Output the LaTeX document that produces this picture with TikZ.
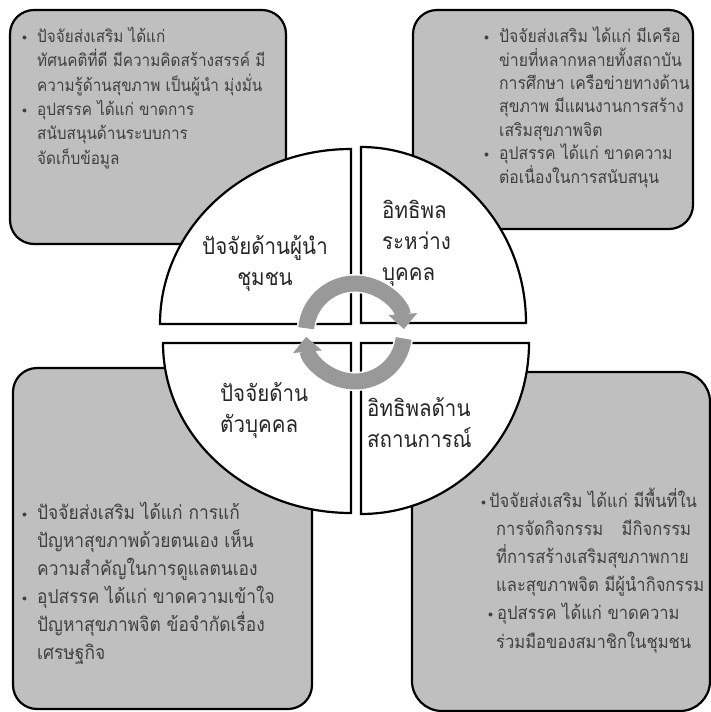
\documentclass[tikz,border=0pt]{standalone}
\usepackage{fontspec}
\newfontfamily\thaifont[Script=Thai,FakeStretch=0.9]{Loma}
\usetikzlibrary{arrows.meta}
\definecolor{boxgray}{HTML}{BFBFBF}
\definecolor{textgray}{HTML}{404040}
\definecolor{arrowgray}{HTML}{999999}
\newcommand{\dotmark}{\raisebox{2pt}{\fontsize{10}{10}\selectfont$\bullet$}}
\newcommand{\bul}{\makebox[15pt][l]{\dotmark}}
\newcommand{\ind}{\hspace*{15pt}}

\begin{document}
\begin{tikzpicture}
	[x=1pt,y=-1pt,
	 factorbox/.style={draw=black,line width=2.2pt,fill=boxgray,rounded corners=24pt},
	 quadrant/.style={draw=black,line width=2.2pt,fill=white},
	 boxtext/.style={anchor=base west,align=left,inner sep=0pt,text=textgray},
	 quadlabel/.style={anchor=base west,align=left,inner sep=0pt,text=black!85,
		font=\thaifont\fontsize{22.8}{31}\selectfont},
	 cyclearrow/.style={line width=16pt,arrowgray,-{Triangle[width=28pt,length=15pt]}},
	 cyclearrowbg/.style={line width=19pt,white,-{Triangle[width=32pt,length=17pt]}}]
	\useasboundingbox (0,0) rectangle (711,712);

	% outer boxes
	\draw[factorbox] (10,10) rectangle (286,244);
	\draw[factorbox] (413,10) rectangle (693,229);
	\draw[factorbox] (13,368) rectangle (312,709);
	\draw[factorbox,rounded corners=30pt] (412,372) rectangle (710,711);

	% texts in the boxes (anchored at the base of the last line)
	\node[boxtext,font=\thaifont\fontsize{17}{24.3}\selectfont] (leadtext) at (22,164)
		{\bul ปัจจัยส่งเสริม ได้แก่\\
		 \ind ทัศนคติที่ดี มีความคิดสร้างสรรค์ มี\\
		 \ind ความรู้ด้านสุขภาพ เป็นผู้นำ มุ่งมั่น\\
		 \bul อุปสรรค ได้แก่ ขาดการ\\
		 \ind สนับสนุนด้านระบบการ\\
		 \ind จัดเก็บข้อมูล};
	\node[boxtext,font=\thaifont\fontsize{17.5}{23.4}\selectfont] (socialtext) at (484,183)
		{\bul ปัจจัยส่งเสริม ได้แก่ มีเครือ\\
		 \ind ข่ายที่หลากหลายทั้งสถาบัน\\
		 \ind การศึกษา เครือข่ายทางด้าน\\
		 \ind สุขภาพ มีแผนงานการสร้าง\\
		 \ind เสริมสุขภาพจิต\\
		 \bul อุปสรรค ได้แก่ ขาดความ\\
		 \ind ต่อเนื่องในการสนับสนุน};
	\node[boxtext,font=\thaifont\fontsize{19.3}{28}\selectfont] (selftext) at (22,659)
		{\bul ปัจจัยส่งเสริม ได้แก่ การแก้\\
		 \ind ปัญหาสุขภาพด้วยตนเอง เห็น\\
		 \ind ความสำคัญในการดูแลตนเอง\\
		 \bul อุปสรรค ได้แก่ ขาดความเข้าใจ\\
		 \ind ปัญหาสุขภาพจิต ข้อจำกัดเรื่อง\\
		 \ind เศรษฐกิจ};
	\node[boxtext,font=\thaifont\fontsize{18.4}{28.2}\selectfont] (situationtext) at (481,648)
		{\makebox[8pt][l]{\dotmark}ปัจจัยส่งเสริม ได้แก่ มีพื้นที่ใน\\
		 \ind การจัดกิจกรรม\quad มีกิจกรรม\\
		 \ind ที่การสร้างเสริมสุขภาพกาย\\
		 \ind และสุขภาพจิต มีผู้นำกิจกรรม\\
		 \hspace*{7pt}\makebox[9pt][l]{\dotmark}อุปสรรค ได้แก่ ขาดความ\\
		 \ind ร่วมมือของสมาชิกในชุมชน};

	% the four quadrants
	\draw[quadrant] (351,324) -- (351,149)
		arc[start angle=-90,end angle=-180,x radius=191,y radius=175] -- cycle;
	\draw[quadrant] (361,323) -- (361,147)
		arc[start angle=-90,end angle=0,x radius=165,y radius=176] -- cycle;
	\draw[quadrant] (351,343) -- (163,343)
		arc[start angle=180,end angle=90,x radius=188,y radius=170] -- cycle;
	\draw[quadrant] (361,343) -- (529,343)
		arc[start angle=0,end angle=90,x radius=168,y radius=171] -- cycle;

	\node[quadlabel,anchor=base,align=center] (leader) at (265,285) {ปัจจัยด้านผู้นำ\\ชุมชน};
	\node[quadlabel] (social) at (382,280) {อิทธิพล\\ระหว่าง\\บุคคล};
	\node[quadlabel] (self) at (220,432) {ปัจจัยด้าน\\ตัวบุคคล};
	\node[quadlabel] (situation) at (367,447) {อิทธิพลด้าน\\สถานการณ์};

	% cycle arrows
	\coordinate (ring) at (355,332.5);
	\draw[cyclearrowbg] (ring) ++(-175:49) arc[start angle=-175,end angle=-4,radius=49];
	\draw[cyclearrowbg] (ring) ++(7:49) arc[start angle=7,end angle=175,radius=49];
	\draw[cyclearrow] (ring) ++(-175:49) arc[start angle=-175,end angle=-4,radius=49];
	\draw[cyclearrow] (ring) ++(7:49) arc[start angle=7,end angle=175,radius=49];
\end{tikzpicture}
\end{document}
